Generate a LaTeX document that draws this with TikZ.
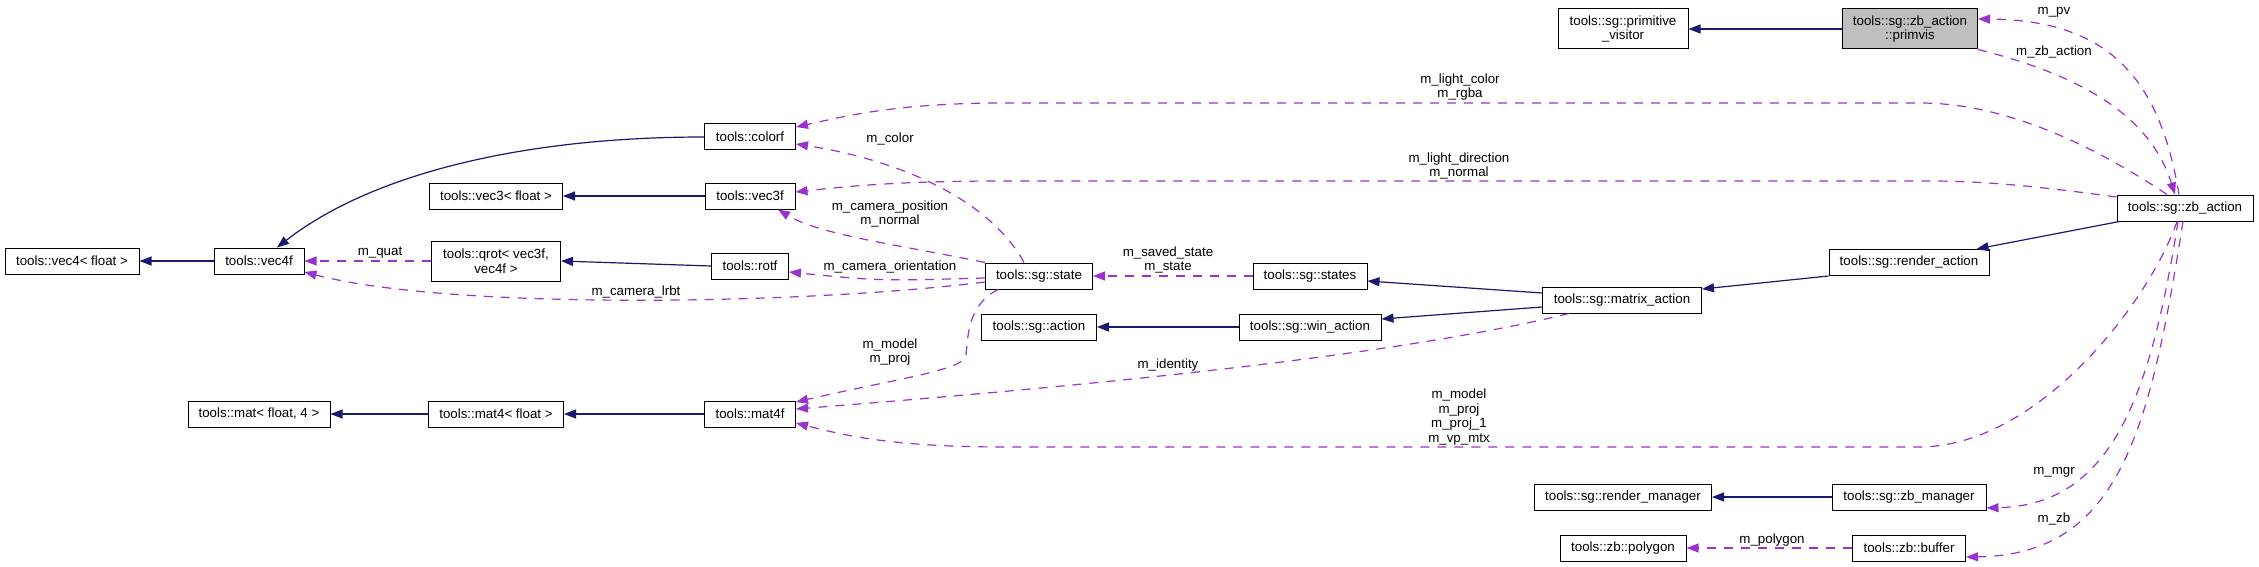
\documentclass[tikz,border=0pt]{standalone}
\usepackage{fontspec}
\setmainfont{Liberation Sans}
\usetikzlibrary{arrows.meta}
\definecolor{inhc}{HTML}{191970}
\definecolor{memc}{HTML}{9A32CD}
\definecolor{mainfill}{HTML}{BFBFBF}
\begin{document}
\begin{tikzpicture}[x=1pt, y=-1pt,
  font=\fontsize{13.33}{14.8}\selectfont,
  cls/.style={draw=black, line width=1pt, fill=white, minimum height=26pt, inner xsep=3pt, inner ysep=1pt, align=center},
  twoline/.style={minimum height=40pt},
  inh/.style={draw=inhc, line width=1.2pt, -{Triangle[length=12pt,width=9pt,fill=inhc]}},
  mem/.style={draw=memc, line width=1.2pt, dash pattern=on 9pt off 8pt, -{Triangle[length=12pt,width=9pt,fill=memc]}},
  lbl/.style={inner sep=0pt, align=center}]
\useasboundingbox (0,0) rectangle (2259,567);
\fill[white] (0,0) rectangle (2259,567);

% nodes
\node[cls, minimum width=134pt] (v4flt) at (72,261) {tools::vec4< float >};
\node[cls, minimum width=90pt] (vec4f) at (259,261) {tools::vec4f};
\node[cls, minimum width=133pt] (v3flt) at (496,196) {tools::vec3< float >};
\node[cls, twoline, minimum width=129pt] (qrot) at (496,261) {tools::qrot< vec3f,\\vec4f >};
\node[cls, minimum width=142pt] (matflt) at (259,414) {tools::mat< float, 4 >};
\node[cls, minimum width=135pt] (m4flt) at (496,414) {tools::mat4< float >};
\node[cls, minimum width=91pt] (colorf) at (750,137) {tools::colorf};
\node[cls, minimum width=90pt] (vec3f) at (750,196) {tools::vec3f};
\node[cls, minimum width=77pt] (rotf) at (750,266) {tools::rotf};
\node[cls, minimum width=91pt] (mat4f) at (750,414) {tools::mat4f};
\node[cls, minimum width=107pt] (state) at (1039,276) {tools::sg::state};
\node[cls, minimum width=114pt] (states) at (1310,276) {tools::sg::states};
\node[cls, minimum width=115pt] (action) at (1039,327) {tools::sg::action};
\node[cls, minimum width=142pt] (winaction) at (1310,327) {tools::sg::win\_action};
\node[cls, twoline, minimum width=130pt] (primvisitor) at (1623,29) {tools::sg::primitive\\\_visitor};
\node[cls, twoline, minimum width=135pt, fill=mainfill] (primvis) at (1910,29) {tools::sg::zb\_action\\::primvis};
\node[cls, minimum width=136pt] (zbaction) at (2185,208) {tools::sg::zb\_action};
\node[cls, minimum width=160pt] (renderaction) at (1909,262.5) {tools::sg::render\_action};
\node[cls, minimum width=159pt] (matrixaction) at (1622,300) {tools::sg::matrix\_action};
\node[cls, minimum width=177pt] (rendermanager) at (1623,497) {tools::sg::render\_manager};
\node[cls, minimum width=154pt] (zbmanager) at (1909,497) {tools::sg::zb\_manager};
\node[cls, minimum width=126pt] (polygon) at (1623,548) {tools::zb::polygon};
\node[cls, minimum width=113pt] (buffer) at (1909,548) {tools::zb::buffer};

% inheritance edges
\draw[inh] (vec4f.west) -- (v4flt.east);
\draw[inh] (colorf.west) .. controls (520,137) and (370,175) .. ([xshift=18pt]vec4f.north);
\draw[inh] (vec3f.west) -- (v3flt.east);
\draw[inh] (rotf.west) -- (qrot.east);
\draw[inh] (mat4f.west) -- (m4flt.east);
\draw[inh] (m4flt.west) -- (matflt.east);
\draw[inh] ([yshift=7pt]matrixaction.west) -- ([yshift=-5pt]states.east);
\draw[inh] ([yshift=-7pt]matrixaction.west) -- ([yshift=8pt]winaction.east);
\draw[inh] (winaction.west) -- (action.east);
\draw[inh] (renderaction.south west) -- ([yshift=11pt]matrixaction.east);
\draw[inh] ([xshift=3pt]zbaction.south west) -- ([xshift=-13pt]renderaction.north east);
\draw[inh] (primvis.west) -- (primvisitor.east);
\draw[inh] (zbmanager.west) -- (rendermanager.east);

% member edges
\draw[mem] (qrot.west) -- (vec4f.east);
\node[lbl] (lquat) at (380,253) {m\_quat};

\draw[mem] ([yshift=-6pt]state.west) .. controls (800,305) and (450,310) .. ([yshift=-11pt]vec4f.east);
\node[lbl] (llrbt) at (636,292) {m\_camera\_lrbt};

\draw[mem] ([yshift=-2pt]state.west) .. controls (880,281) .. ([yshift=-6pt]rotf.east);
\node[lbl] (lorient) at (890,267) {m\_camera\_orientation};

\draw[mem] (state.north west) .. controls (900,245) and (820,235) .. ([xshift=28pt]vec3f.south);
\node[lbl] (lpos) at (890,214) {m\_camera\_position\\m\_normal};

\draw[mem] ([xshift=-15pt]state.north) .. controls (990,200) and (900,160) .. ([yshift=-7pt]colorf.east);
\node[lbl] (lcolor) at (890,139) {m\_color};

\draw[mem] ([xshift=-41pt]state.south) .. controls (968,305) and (968,335) .. (966,355)
  .. controls (965,370) and (900,378) .. ([yshift=12pt]mat4f.east);
\node[lbl] (lmodel) at (890,352) {m\_model\\m\_proj};

\draw[mem] ([xshift=-53pt]matrixaction.south) .. controls (1400,355) and (1100,385) .. ([yshift=5pt]mat4f.east);
\node[lbl] (lident) at (1168,365) {m\_identity};

\draw[mem] ([xshift=-8pt]zbaction.south) .. controls (2150,300) and (2040,446) .. (1920,447)
  -- (1005,447) .. controls (900,447) and (850,437) .. ([yshift=-9pt]mat4f.east);
\node[lbl] (lvp) at (1459,417) {m\_model\\m\_proj\\m\_proj\_1\\m\_vp\_mtx};

\draw[mem] ([xshift=-18pt]zbaction.north) .. controls (2100,150) and (2010,103) .. (1920,103)
  -- (1005,103) .. controls (900,103) and (850,115) .. ([yshift=10pt]colorf.east);
\node[lbl] (llcolor) at (1460,87) {m\_light\_color\\m\_rgba};

\draw[mem] ([yshift=11pt]zbaction.west) .. controls (2050,188) and (1990,181) .. (1930,181)
  -- (1005,181) .. controls (900,181) and (850,186) .. ([yshift=4pt]vec3f.east);
\node[lbl] (lldir) at (1459,166) {m\_light\_direction\\m\_normal};

\draw[mem] ([xshift=-6pt]zbaction.north) .. controls (2160,80) and (2110,20) .. ([yshift=10pt]primvis.east);
\node[lbl] (lpv) at (2054,12) {m\_pv};

\draw[mem] (primvis.south east) .. controls (2080,75) and (2150,115) .. ([xshift=-10pt]zbaction.north);
\node[lbl] (lzba) at (2054,52) {m\_zb\_action};

\draw[mem] ([xshift=-7pt]zbaction.south) .. controls (2150,400) and (2110,505) .. ([yshift=-11pt]zbmanager.east);
\node[lbl] (lmgr) at (2054,472) {m\_mgr};

\draw[mem] ([xshift=-2pt]zbaction.south) .. controls (2150,430) and (2120,555) .. ([yshift=-9pt]buffer.east);
\node[lbl] (lzb) at (2054,519) {m\_zb};

\draw[mem] (states.west) -- (state.east);
\node[lbl] (lsaved) at (1168,260) {m\_saved\_state\\m\_state};

\draw[mem] (buffer.west) -- (polygon.east);
\node[lbl] (lpoly) at (1772,540) {m\_polygon};
\end{tikzpicture}
\end{document}
